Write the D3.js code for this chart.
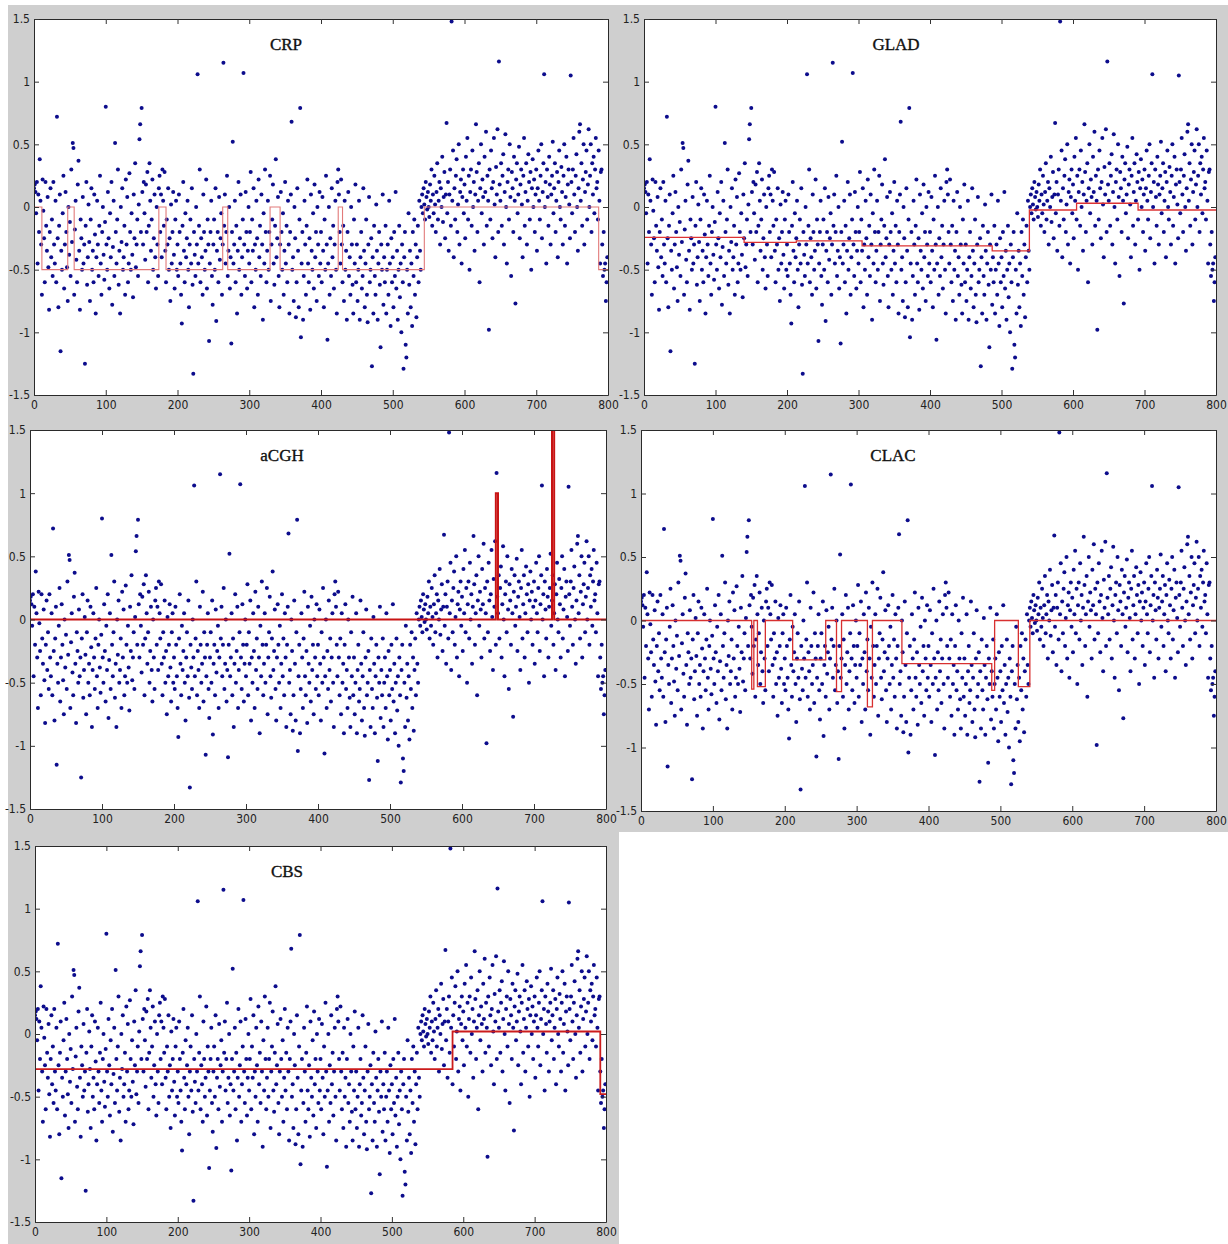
<!DOCTYPE html>
<html><head><meta charset="utf-8">
<script src="https://cdn.jsdelivr.net/npm/d3@7"></script>
<style>body{margin:0;background:#fff}svg{display:block}</style>
</head><body><svg id="c" width="1228" height="1244"></svg>
<script>
// ---- data: log-ratio values per probe index (0..799) ----
const values = [
0.15,0.18,0.12,-0.05,0.2,-0.45,0.1,-0.2,0.38,0.05,-0.3,-0.7,0.22,-0.03,-0.25,-0.6,0.2,-0.15,-0.35,0.08,-0.48,-0.82,-0.2,0.15,-0.4,
-0.1,-0.55,0.2,-0.3,-0.45,0.05,-0.6,0.72,-0.25,-0.8,-0.15,0.1,-1.15,-0.35,-0.5,-0.05,0.25,-0.65,-0.3,0.12,-0.2,-0.48,-0.75,0.0,-0.38,
-0.12,-0.55,0.3,-0.28,0.51,0.47,-0.7,-0.18,0.05,-0.42,-0.6,0.18,0.37,-0.35,-0.82,-0.1,-0.25,-0.5,0.08,-0.45,-0.3,-1.25,-0.15,0.2,-0.62,
-0.4,0.02,-0.28,-0.75,-0.1,0.15,-0.5,-0.35,-0.6,0.1,-0.22,-0.85,-0.4,0.05,-0.3,-0.55,-0.15,0.25,-0.45,-0.7,-0.2,0.0,-0.38,-0.58,-0.12,
0.8,-0.3,-0.5,0.12,-0.25,-0.65,-0.05,-0.4,0.2,-0.78,-0.32,0.05,-0.55,0.51,-0.2,-0.45,-0.1,0.3,-0.62,-0.35,-0.85,0.0,-0.28,0.15,-0.5,
-0.4,-0.15,-0.7,0.22,-0.3,0.08,-0.6,-0.45,0.27,-0.2,-0.5,-0.05,-0.38,-0.72,0.1,-0.25,0.35,-0.48,-0.3,-0.1,-0.55,0.02,0.54,0.66,-0.2,
0.79,0.12,-0.3,0.2,-0.05,-0.42,0.18,-0.2,0.28,-0.6,-0.15,0.35,0.05,-0.35,-0.1,0.22,-0.5,-0.25,0.1,-0.4,-0.65,0.0,-0.3,-0.55,0.15,
0.25,-0.2,0.1,-0.4,0.3,0.05,-0.15,0.28,-0.35,-0.6,-0.1,-0.3,0.15,-0.5,-0.25,-0.75,0.02,-0.45,-0.2,0.12,-0.38,-0.65,-0.1,0.05,-0.5,
-0.3,-0.55,0.1,-0.2,-0.45,-0.7,-0.93,-0.15,0.2,-0.35,-0.6,-0.05,-0.4,-0.25,0.05,-0.5,-0.8,-0.3,-0.1,-0.45,0.15,-0.62,-1.33,-0.2,-0.38,
-0.55,0.0,-0.3,1.06,-0.45,-0.15,0.3,-0.6,-0.25,-0.4,-0.7,0.1,-0.2,-0.5,-0.35,0.22,-0.65,-0.1,-0.3,-1.07,-0.45,-0.2,0.05,-0.55,-0.78,
-0.3,-0.1,-0.5,0.15,-0.91,-0.35,-0.2,-0.6,0.08,-0.42,-0.25,-0.05,-0.7,-0.3,1.15,-0.15,0.1,-0.45,-0.2,0.25,-0.55,-0.35,0.0,-0.65,-0.4,
-1.09,-0.2,0.52,-0.45,-0.3,0.05,-0.6,-0.15,-0.85,-0.35,0.2,-0.5,-0.25,0.1,-0.7,-0.4,-0.1,1.07,-0.3,-0.55,0.12,-0.2,-0.65,-0.35,0.0,
-0.45,-0.2,0.28,-0.6,-0.1,-0.35,0.15,-0.8,-0.3,-0.5,0.05,-0.25,-0.7,0.22,-0.4,-0.15,-0.55,0.1,-0.3,-0.9,-0.05,-0.45,0.3,-0.2,-0.6,
-0.35,0.05,-0.5,-0.2,0.25,-0.75,-0.3,-0.1,0.18,-0.45,-0.62,-0.15,0.38,-0.4,-0.25,0.08,-0.55,-0.8,-0.3,0.12,-0.2,-0.5,-0.05,-0.7,-0.35,
0.2,-0.45,-0.15,-0.6,0.05,-0.3,-0.85,-0.2,0.1,0.68,-0.5,-0.4,-0.75,0.0,-0.25,-0.88,-0.6,0.15,-0.35,-0.8,-0.1,0.79,-1.04,-0.45,-0.2,
-0.9,-0.55,0.05,-0.3,-0.7,-0.15,0.22,-0.45,-0.6,-0.25,-0.82,0.1,-0.35,-0.5,-0.05,-0.65,0.18,-0.4,-0.2,-0.75,0.0,-0.3,-0.55,0.12,-0.45,
-0.2,-0.6,0.08,-0.35,-0.8,-0.1,-0.5,0.25,-0.3,-1.06,-0.45,0.0,-0.7,-0.25,-0.55,0.15,-0.4,-0.15,-0.65,-0.3,0.05,-0.5,-0.85,0.2,0.3,
0.1,-0.2,-0.45,0.22,-0.3,-0.6,-0.15,-0.75,0.05,-0.5,-0.35,-0.9,-0.2,0.12,-0.55,-0.4,-0.7,0.0,-0.3,-0.62,-0.85,-0.1,-0.45,0.18,-0.6,
-0.3,-0.75,-0.5,0.05,-0.9,-0.4,-0.2,-0.65,-0.55,0.15,-0.35,-0.8,-0.45,-0.1,-0.7,-0.92,-0.3,0.08,-0.6,-0.5,-0.25,-1.27,-0.4,-0.85,-0.15,
-0.55,-0.7,0.02,-0.35,-0.9,-0.45,-0.2,-0.62,-1.12,-0.3,-0.5,0.1,-0.78,-0.4,-0.6,-0.15,-0.85,-0.5,-0.3,-0.7,0.05,-0.45,-0.95,-0.25,-0.6,
-0.4,-0.8,-0.2,-0.55,0.12,-0.65,-0.35,-0.9,-0.5,-0.15,-0.72,-0.45,-1.0,-0.3,-0.6,-1.29,-0.4,-0.2,-1.1,-1.2,-0.5,-0.85,-0.05,-0.62,-0.35,
-0.8,-0.45,-0.95,-0.2,-0.55,-0.1,-0.7,-0.3,-0.88,-0.4,-0.15,-0.6,0.05,-0.35,-0.5,0.0,0.1,-0.05,0.15,0.02,-0.1,0.2,0.08,-0.02,0.12,
0.0,-0.08,0.18,0.05,0.3,-0.15,0.1,-0.05,0.25,0.02,-0.2,0.12,0.35,-0.1,0.05,0.2,-0.3,0.15,0.0,0.4,-0.12,0.08,0.28,-0.25,0.1,
0.67,-0.05,0.2,-0.35,0.1,0.3,-0.15,1.48,0.05,0.45,-0.4,0.15,-0.1,0.25,0.38,-0.2,0.02,0.5,-0.3,0.12,0.22,-0.45,0.08,0.3,-0.05,
0.18,-0.25,0.4,0.05,0.55,-0.1,0.25,-0.5,0.12,0.3,-0.15,0.45,0.0,0.2,-0.35,0.1,0.66,0.28,-0.2,0.05,0.35,-0.6,0.15,0.5,-0.05,
0.22,0.08,-0.3,0.4,0.12,0.6,-0.15,0.25,0.05,-0.98,0.3,-0.1,0.45,0.15,-0.25,0.2,0.55,0.02,-0.4,0.32,0.1,0.62,-0.2,1.16,0.18,
0.05,0.35,-0.15,0.25,0.42,-0.3,0.12,0.58,0.0,-0.45,0.2,0.3,-0.1,0.5,0.08,-0.55,0.28,0.15,-0.2,0.4,0.05,-0.77,0.22,0.35,-0.05,
0.1,0.48,-0.25,0.18,0.3,0.02,-0.4,0.25,0.55,-0.15,0.12,0.35,-0.3,0.05,0.42,0.2,-0.1,0.28,-0.5,0.15,0.38,0.0,0.22,-0.2,0.1,
0.3,-0.35,0.15,0.45,0.05,-0.1,0.25,0.5,-0.25,0.12,0.35,1.06,0.0,0.2,-0.45,0.3,0.08,-0.15,0.4,0.18,-0.3,0.1,0.25,0.52,-0.05,
0.15,0.35,-0.2,0.05,0.28,-0.4,0.2,0.45,0.0,-0.1,0.32,0.12,-0.3,0.25,0.5,-0.15,0.08,0.4,-0.45,0.18,0.3,0.02,-0.25,1.05,0.2,
-0.05,0.3,0.55,0.1,-0.2,0.25,0.42,0.0,-0.35,0.15,0.6,0.66,0.05,0.35,-0.15,0.22,0.5,-0.3,0.12,0.28,0.45,-0.1,0.18,0.62,0.0,
0.25,0.5,-0.2,0.35,0.1,0.4,-0.05,0.3,0.55,0.15,0.2,-0.1,0.45,0.05,-0.45,0.28,0.3,-0.3,-0.55,-0.2,-0.5,-0.45,-0.75,-0.6,-0.4
];

// segmentation results: [start, end, level]
const crpSegments = [[0,11,0],[11,47,-0.5],[47,56,0],[56,174,-0.5],[174,184,0],[184,263,-0.5],[263,270,0],[270,329,-0.5],[329,343,0],[343,424,-0.5],[424,430,0],[430,544,-0.5],[544,787,0],[787,800,-0.5]];
const gladSegments = [[0,140,-0.243],[140,213,-0.283],[213,305,-0.27],[305,487,-0.31],[487,539,-0.35],[539,605,-0.024],[605,691,0.03],[691,800,-0.024]];
const acghSegments = [[0,647,0],[647,650,1.0],[650,725,0],[725,728,1.7],[728,800,0]];
const clacSegments = [[0,154,0],[154,157,-0.54],[157,162,0],[162,173,-0.52],[173,211,0],[211,257,-0.31],[257,272,0],[272,279,-0.56],[279,315,0],[315,322,-0.68],[322,363,0],[363,488,-0.34],[488,492,-0.55],[492,525,0],[525,541,-0.52],[541,800,0]];
const cbsSegments = [[0,585,-0.28],[585,792,0.02],[792,800,-0.48]];

const titles = ["CRP","GLAD","aCGH","CLAC","CBS"];
const xTicks = [0,100,200,300,400,500,600,700,800];
const yTicks = [-1.5,-1,-0.5,0,0.5,1,1.5];
const yTickLabels = ["-1.5","-1","-0.5","0","0.5","1","1.5"];

// ---- layout / style ----
const panels = [
  {title:titles[0], segs:crpSegments,  l:34,  t:19,  r:608,  b:395, color:"#e27a7a", w:1.1},
  {title:titles[1], segs:gladSegments, l:644, t:19,  r:1216, b:395, color:"#dd3333", w:1.3},
  {title:titles[2], segs:acghSegments, l:30,  t:430, r:606,  b:809, color:"#c81414", w:2},
  {title:titles[3], segs:clacSegments, l:641, t:430, r:1216, b:811, color:"#d83030", w:1.3},
  {title:titles[4], segs:cbsSegments,  l:35,  t:846, r:606,  b:1222, color:"#cc1c1c", w:1.8}
];

const svg = d3.select("#c");
const gray = "#cfcfcf";
svg.append("path")
  .attr("d","M8,5H1228V832H619V1244H8Z")
  .attr("fill", gray);

const defs = svg.append("defs");

panels.forEach((p,i)=>{
  const x = d3.scaleLinear().domain([0,800]).range([p.l,p.r]);
  const y = d3.scaleLinear().domain([-1.5,1.5]).range([p.b,p.t]);
  const g = svg.append("g");
  g.append("rect").attr("x",p.l).attr("y",p.t).attr("width",p.r-p.l).attr("height",p.b-p.t).attr("fill","#fff");
  defs.append("clipPath").attr("id","clip"+i).append("rect")
    .attr("x",p.l).attr("y",p.t).attr("width",p.r-p.l).attr("height",p.b-p.t);
  const plot = g.append("g").attr("clip-path","url(#clip"+i+")");
  plot.selectAll("circle").data(values).join("circle")
    .attr("cx",(d,k)=>x(k)).attr("cy",d=>y(d)).attr("r",2).attr("fill","#0c0c8c");
  const pts = [];
  p.segs.forEach(s=>{pts.push([s[0],s[2]]); pts.push([s[1],s[2]]);});
  plot.append("path").datum(pts)
    .attr("d", d3.line().x(d=>x(d[0])).y(d=>y(d[1])))
    .attr("fill","none").attr("stroke",p.color).attr("stroke-width",p.w);

  // axes (box with inward ticks)
  const tickLen = 5;
  const axB = d3.axisBottom(x).tickValues(xTicks).tickSizeInner(-tickLen).tickSizeOuter(0).tickPadding(5).tickFormat(d3.format("d"));
  const axT = d3.axisTop(x).tickValues(xTicks).tickSizeInner(-tickLen).tickSizeOuter(0).tickFormat("");
  const axL = d3.axisLeft(y).tickValues(yTicks).tickSizeInner(-tickLen).tickSizeOuter(0).tickPadding(4).tickFormat(d=>yTickLabels[yTicks.indexOf(d)]);
  const axR = d3.axisRight(y).tickValues(yTicks).tickSizeInner(-tickLen).tickSizeOuter(0).tickFormat("");
  const style = sel=>{
    sel.select(".domain").attr("stroke","#2a2a2a");
    sel.selectAll(".tick line").attr("stroke","#333");
    sel.selectAll("text").attr("fill","#222").style("font-family","'Liberation Sans Narrow','DejaVu Sans Condensed',sans-serif").style("font-size","12px");
  };
  g.append("g").attr("transform",`translate(0,${p.b})`).call(axB).call(style);
  g.append("g").attr("transform",`translate(0,${p.t})`).call(axT).call(style);
  g.append("g").attr("transform",`translate(${p.l},0)`).call(axL).call(style);
  g.append("g").attr("transform",`translate(${p.r},0)`).call(axR).call(style);

  g.append("text").attr("x",p.l+252).attr("y",p.t+31).attr("text-anchor","middle")
    .style("font-family","'Liberation Serif','Times New Roman',serif").style("font-size","17px")
    .attr("fill","#111").attr("stroke","#111").attr("stroke-width",0.35)
    .text(p.title);
});
</script></body></html>
